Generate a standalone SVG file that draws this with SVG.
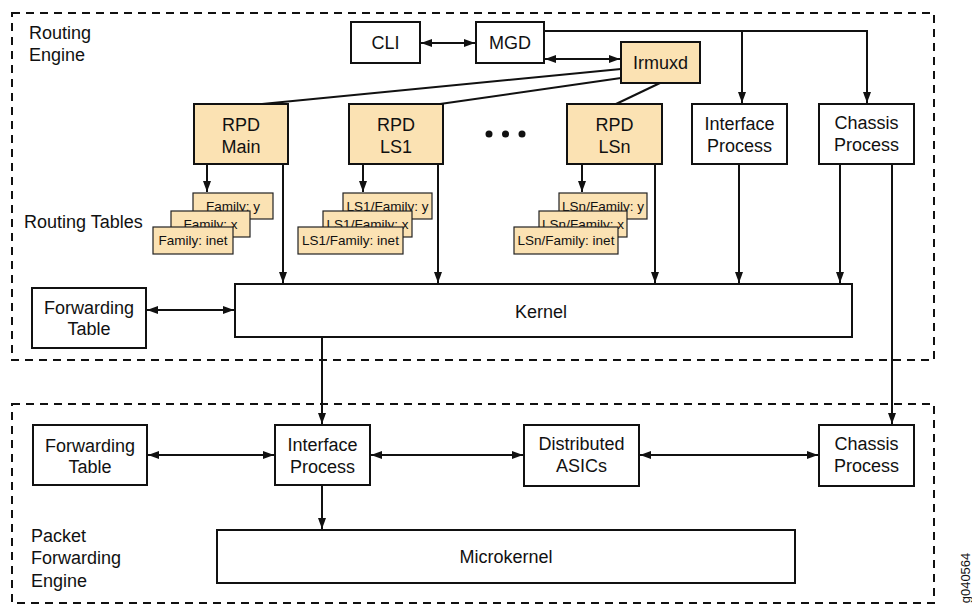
<svg xmlns="http://www.w3.org/2000/svg" width="972" height="606" viewBox="0 0 972 606">
<style>
text{font-family:"Liberation Sans",Arial,Helvetica,sans-serif;fill:#111;}
.lbl{font-size:18px;text-anchor:middle;}
.side{font-size:18px;}
.tbl{font-size:13.5px;text-anchor:middle;}
.box{fill:#fff;stroke:#111;stroke-width:2;}
.org{fill:#fbe2b3;stroke:#111;stroke-width:2;}
.tb{fill:#fbe2b3;stroke:#222;stroke-width:1.2;}
.dash{fill:none;stroke:#111;stroke-width:2;stroke-dasharray:8 6;}
.c{fill:none;stroke:#111;stroke-width:2;}
.a{marker-end:url(#ah);}
.b{marker-start:url(#ah);marker-end:url(#ah);}
</style>
<defs>
<marker id="ah" markerWidth="11" markerHeight="8" refX="11" refY="4" orient="auto-start-reverse" markerUnits="userSpaceOnUse">
<path d="M0,0 L11,4 L0,8 z" fill="#111"/>
</marker>
</defs>
<rect width="972" height="606" fill="#fff"/>

<g id="routing-engine">
<rect class="dash" x="12" y="13" width="922" height="347"/>
<text class="side" x="29" y="39">Routing</text>
<text class="side" x="29" y="61">Engine</text>
<text class="side" x="24" y="228">Routing Tables</text>
</g>
<g id="packet-forwarding-engine">
<rect class="dash" x="12" y="404" width="922" height="199"/>
<text class="side" x="31" y="542">Packet</text>
<text class="side" x="31" y="564">Forwarding</text>
<text class="side" x="31" y="587">Engine</text>
</g>

<g id="cli"><rect class="box" x="351" y="22" width="69" height="41"/><text class="lbl" x="385.5" y="49">CLI</text></g>
<g id="mgd"><rect class="box" x="476" y="22" width="68" height="41"/><text class="lbl" x="510" y="49">MGD</text></g>
<g id="irmuxd"><rect class="org" x="621" y="42" width="79" height="41"/><text class="lbl" x="660.5" y="69">Irmuxd</text></g>

<g id="rpd-main"><rect class="org" x="194" y="104" width="94" height="60"/><text class="lbl" x="241" y="131">RPD</text><text class="lbl" x="241" y="153">Main</text></g>
<g id="rpd-ls1"><rect class="org" x="349" y="104" width="94" height="60"/><text class="lbl" x="396" y="131">RPD</text><text class="lbl" x="396" y="153">LS1</text></g>
<g id="ellipsis"><circle cx="489" cy="134" r="3.5" fill="#111"/><circle cx="505.5" cy="134" r="3.5" fill="#111"/><circle cx="522" cy="134" r="3.5" fill="#111"/></g>
<g id="rpd-lsn"><rect class="org" x="567" y="104" width="95" height="60"/><text class="lbl" x="614.5" y="131">RPD</text><text class="lbl" x="614.5" y="153">LSn</text></g>
<g id="interface-process-re"><rect class="box" x="692" y="104" width="95" height="60"/><text class="lbl" x="739.5" y="130">Interface</text><text class="lbl" x="739.5" y="152">Process</text></g>
<g id="chassis-process-re"><rect class="box" x="819" y="104" width="95" height="60"/><text class="lbl" x="866.5" y="129">Chassis</text><text class="lbl" x="866.5" y="151">Process</text></g>

<g id="tables-main">
<rect class="tb" x="193" y="193" width="80" height="26"/><text class="tbl" x="233" y="211">Family: y</text>
<rect class="tb" x="171" y="211" width="79" height="26"/><text class="tbl" x="210.5" y="229">Family: x</text>
<rect class="tb" x="153" y="227" width="80" height="27"/><text class="tbl" x="193" y="245">Family: inet</text>
</g>
<g id="tables-ls1">
<rect class="tb" x="343" y="193" width="89" height="26"/><text class="tbl" x="387.5" y="211">LS1/Family: y</text>
<rect class="tb" x="323" y="211" width="89" height="26"/><text class="tbl" x="367.5" y="229">LS1/Family: x</text>
<rect class="tb" x="298" y="227" width="105" height="27"/><text class="tbl" x="350.5" y="245">LS1/Family: inet</text>
</g>
<g id="tables-lsn">
<rect class="tb" x="559" y="193" width="88" height="26"/><text class="tbl" x="603" y="211">LSn/Family: y</text>
<rect class="tb" x="539" y="211" width="88" height="26"/><text class="tbl" x="583" y="229">LSn/Family: x</text>
<rect class="tb" x="514" y="227" width="104" height="27"/><text class="tbl" x="566" y="245">LSn/Family: inet</text>
</g>

<g id="forwarding-table-re"><rect class="box" x="32" y="288" width="114" height="60"/><text class="lbl" x="89" y="314">Forwarding</text><text class="lbl" x="89" y="335">Table</text></g>
<g id="kernel"><rect class="box" x="235" y="284" width="617" height="53"/><text class="lbl" x="541" y="318">Kernel</text></g>

<g id="forwarding-table-pfe"><rect class="box" x="33" y="425" width="114" height="60"/><text class="lbl" x="90" y="452">Forwarding</text><text class="lbl" x="90" y="473">Table</text></g>
<g id="interface-process-pfe"><rect class="box" x="275" y="425" width="95" height="60"/><text class="lbl" x="322.5" y="451">Interface</text><text class="lbl" x="322.5" y="473">Process</text></g>
<g id="distributed-asics"><rect class="box" x="524" y="425" width="115" height="61"/><text class="lbl" x="581.5" y="450">Distributed</text><text class="lbl" x="581.5" y="472">ASICs</text></g>
<g id="chassis-process-pfe"><rect class="box" x="819" y="425" width="95" height="61"/><text class="lbl" x="866.5" y="450">Chassis</text><text class="lbl" x="866.5" y="472">Process</text></g>
<g id="microkernel"><rect class="box" x="217" y="530" width="578" height="53"/><text class="lbl" x="506" y="563">Microkernel</text></g>

<g id="connectors">
<line class="c b" x1="421" y1="43" x2="475" y2="43"/>
<line class="c b" x1="545" y1="59" x2="620" y2="59"/>
<path class="c a" d="M544,31 H867 V103"/>
<path class="c a" d="M742,31 V103"/>
<line class="c" x1="621" y1="69" x2="262" y2="104"/>
<line class="c" x1="621" y1="78" x2="440" y2="104"/>
<line class="c" x1="660" y1="83" x2="616" y2="104"/>
<line class="c a" x1="207" y1="165" x2="207" y2="192"/>
<line class="c a" x1="363" y1="165" x2="363" y2="192"/>
<line class="c a" x1="582" y1="165" x2="582" y2="192"/>
<line class="c a" x1="283" y1="164" x2="283" y2="283"/>
<line class="c a" x1="438" y1="164" x2="438" y2="283"/>
<line class="c a" x1="655" y1="164" x2="655" y2="283"/>
<line class="c a" x1="739" y1="164" x2="739" y2="283"/>
<line class="c a" x1="840" y1="164" x2="840" y2="283"/>
<line class="c a" x1="892" y1="164" x2="892" y2="424"/>
<line class="c b" x1="147" y1="310" x2="234" y2="310"/>
<line class="c a" x1="322" y1="337" x2="322" y2="424"/>
<line class="c b" x1="148" y1="455" x2="274" y2="455"/>
<line class="c b" x1="371" y1="455" x2="523" y2="455"/>
<line class="c b" x1="640" y1="455" x2="818" y2="455"/>
<line class="c a" x1="322" y1="486" x2="322" y2="529"/>
</g>
<text x="970" y="578" font-size="13" text-anchor="middle" transform="rotate(-90 970 578)" style="font-size:13px">g040564</text>
</svg>
